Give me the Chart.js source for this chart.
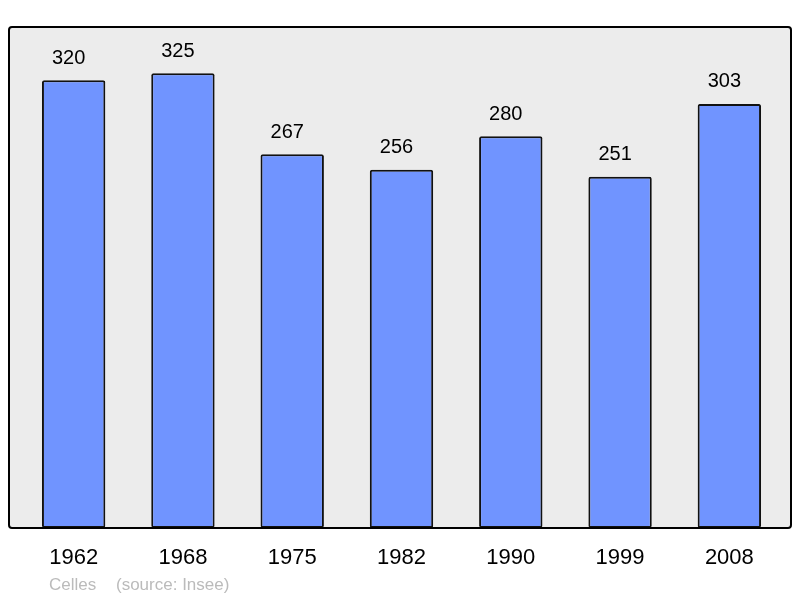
<!DOCTYPE html>
<html>
<head>
<meta charset="utf-8">
<script src="https://cdn.jsdelivr.net/npm/chart.js@4"></script>
<style>
  html, body { margin: 0; padding: 0; background: #ffffff; }
  #wrap { width: 800px; height: 598px; }
</style>
</head>
<body>
<div id="wrap"><canvas id="chart"></canvas></div>
<script>
const years = ["1962", "1968", "1975", "1982", "1990", "1999", "2008"];
const population = [320, 325, 267, 256, 280, 251, 303];
const footer_name = "Celles";
const footer_source = "(source: Insee)";

const FONT = "'Liberation Sans', Arial, sans-serif";

// grey panel behind bars + black frame on top
const frame_plugin = {
  id: "frame",
  beforeDatasetsDraw(chart) {
    const a = chart.chartArea;
    const ctx = chart.ctx;
    ctx.save();
    ctx.fillStyle = "#ececec";
    ctx.beginPath();
    ctx.roundRect(a.left - 10, a.top, a.width + 17, a.height, 3);
    ctx.fill();
    ctx.restore();
  },
  afterDatasetsDraw(chart) {
    const a = chart.chartArea;
    const ctx = chart.ctx;
    ctx.save();
    ctx.strokeStyle = "#000000";
    ctx.lineWidth = 2;
    ctx.beginPath();
    ctx.roundRect(a.left - 10, a.top, a.width + 17, a.height, 3);
    ctx.stroke();

    // value labels above each bar (sit a little left of centre in the original)
    ctx.fillStyle = "#000000";
    ctx.font = "20px " + FONT;
    ctx.textAlign = "center";
    ctx.textBaseline = "middle";
    chart.getDatasetMeta(0).data.forEach((bar, i) => {
      ctx.fillText(String(population[i]), bar.x - 5, bar.y - 22);
    });

    // footer text
    ctx.fillStyle = "#bbbbbb";
    ctx.font = "17px " + FONT;
    ctx.textAlign = "left";
    ctx.fillText(footer_name, 49, 585);
    ctx.fillText(footer_source, 116, 585);
    ctx.restore();
  },
};

new Chart(document.getElementById("chart"), {
  type: "bar",
  data: {
    labels: years,
    datasets: [
      {
        data: population,
        backgroundColor: "#7094ff",
        borderColor: "#111111",
        borderWidth: 2,
        borderRadius: 2,
        borderSkipped: false,
        categoryPercentage: 1,
        barPercentage: 0.58,
      },
    ],
  },
  options: {
    responsive: true,
    maintainAspectRatio: false,
    animation: false,
    layout: { padding: { left: 19, right: 16, top: 27, bottom: 30 } },
    plugins: {
      legend: { display: false },
      tooltip: { enabled: false },
    },
    scales: {
      x: {
        grid: { display: false, drawTicks: false },
        border: { display: false },
        ticks: {
          color: "#000000",
          font: { family: FONT, size: 22 },
          padding: 17,
          maxRotation: 0,
        },
        afterFit(scale) {
          scale.height = 40;
        },
      },
      y: {
        display: false,
        min: 0,
        max: 358,
      },
    },
  },
  plugins: [frame_plugin],
});
</script>
</body>
</html>
